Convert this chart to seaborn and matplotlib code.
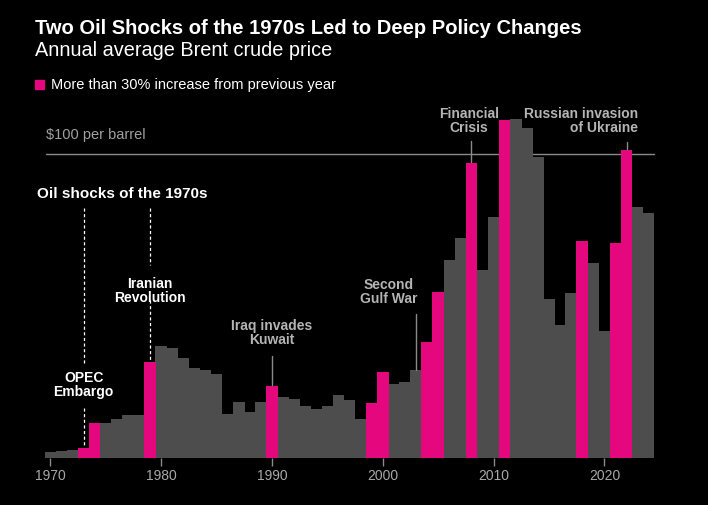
import numpy as np
import pandas as pd
import matplotlib
matplotlib.use("Agg")
import matplotlib.pyplot as plt
import seaborn as sns

# Precio medio anual del Brent (USD por barril)
years = list(range(1970, 2025))
prices = [1.8, 2.3, 2.6, 3.3, 11.5, 11.5, 12.6, 14.0, 14.1, 31.5,
          36.8, 36.0, 32.9, 29.5, 28.8, 27.6, 14.4, 18.3, 14.9, 18.2,
          23.7, 20.1, 19.3, 17.0, 15.9, 17.0, 20.6, 19.0, 12.6, 17.9,
          28.3, 24.4, 24.9, 28.8, 38.2, 54.6, 65.1, 72.4, 97.1, 61.7,
          79.4, 111.2, 111.5, 108.6, 99.0, 52.2, 43.7, 54.2, 71.3, 64.1,
          41.8, 70.8, 101.3, 82.5, 80.7]
# Años con subida de más del 30%
big_jump_years = [1973, 1974, 1979, 1990, 1999, 2000, 2004, 2005, 2008,
                  2011, 2018, 2021, 2022]
tick_years = [1970, 1980, 1990, 2000, 2010, 2020]

PINK = "#e5077e"
GRAY = "#4d4d4d"
TXT_GRAY = "#b4b4b4"

df = pd.DataFrame({"year": years, "price": prices})
df["tipo"] = np.where(df["year"].isin(big_jump_years), "salto", "normal")

sns.set_style("dark")
plt.rcParams["font.family"] = ["Liberation Sans", "DejaVu Sans"]

W, H = 708, 505
fig = plt.figure(figsize=(W / 100, H / 100), dpi=100, facecolor="black")

# ejes en píxeles: 1970 en x=50.4, 11.08 px por año; base en y=457.7, 3.037 px por $
ax_l, ax_r, ax_t, ax_b = 40, 660, 95, 457.7
ax = fig.add_axes([ax_l / W, 1 - ax_b / H, (ax_r - ax_l) / W, (ax_b - ax_t) / H])
ax.set_facecolor("black")

# línea de $100 detrás de las barras
ax.plot([1969.6, 2024.5], [100, 100], color="#8a8a8a", lw=1, zorder=0)
ax.text(1969.6, 104, "$100 per barrel", color="#a0a0a0", fontsize=10.5,
        ha="left", va="bottom")

# ancho un poco mayor que 1 para que las barras se toquen sin rendijas
sns.barplot(data=df, x="year", y="price", hue="tipo",
            palette={"salto": PINK, "normal": GRAY}, saturation=1,
            native_scale=True, dodge=False, width=1.04, linewidth=0,
            legend=False, ax=ax, zorder=2)
for bar in ax.patches:
    bar.set_antialiased(False)

ax.set_xlim(1970 - (50.4 - ax_l) / 11.08, 1970 + (ax_r - 50.4) / 11.08)
ax.set_ylim(0, (ax_b - ax_t) / 3.037)
ax.set_xticks(tick_years)
ax.set_xticklabels([str(y) for y in tick_years])
ax.set_yticks([])
ax.set_xlabel("")
ax.set_ylabel("")
ax.tick_params(axis="x", colors="#8a8a8a", labelcolor="#a8a8a8", length=6,
               width=1, labelsize=10, pad=2, bottom=True)
for s in ax.spines.values():
    s.set_visible(False)
ax.grid(False)

# anotaciones de los años 70
ax.text(1968.8, 86.8, "Oil shocks of the 1970s", color="white", fontsize=11,
        fontweight="bold", ha="left", va="center")
dash = dict(color="white", lw=0.9, ls=(0, (2.5, 2)), zorder=3)
ax.plot([1973, 1973], [82.2, 30.5], **dash)
ax.plot([1973, 1973], [16.4, 3.6], **dash)
ax.text(1973, 23.9, "OPEC\nEmbargo", color="white", fontsize=10,
        fontweight="bold", ha="center", va="center", linespacing=1.05)
ax.plot([1979, 1979], [82.2, 63.4], **dash)
ax.plot([1979, 1979], [51.9, 31.8], **dash)
ax.text(1979, 54.9, "Iranian\nRevolution", color="white", fontsize=10,
        fontweight="bold", ha="center", va="center", linespacing=1.05)

# otros eventos
solid = dict(color="#8a8a8a", lw=1, zorder=3)
ax.plot([1990, 1990], [33.5, 23.9], **solid)
ax.text(1990, 41.1, "Iraq invades\nKuwait", color=TXT_GRAY, fontsize=10,
        fontweight="bold", ha="center", va="center", linespacing=1.05)
ax.plot([2003, 2003], [47.3, 29.0], **solid)
ax.text(2000.5, 54.6, "Second\nGulf War", color=TXT_GRAY, fontsize=10,
        fontweight="bold", ha="center", va="center", linespacing=1.05)
ax.plot([2008, 2008], [104.3, 97.3], **solid)
ax.text(2007.8, 110.9, "Financial\nCrisis", color=TXT_GRAY, fontsize=10,
        fontweight="bold", ha="center", va="center", linespacing=1.05)
ax.plot([2022, 2022], [104.0, 101.5], **solid)
ax.text(2023.0, 110.9, "Russian invasion\nof Ukraine", color=TXT_GRAY,
        fontsize=10, fontweight="bold", ha="right", va="center",
        multialignment="right", linespacing=1.05)

# título, subtítulo y leyenda
fig.text(35 / W, 1 - 28 / H, "Two Oil Shocks of the 1970s Led to Deep Policy Changes",
         color="white", fontsize=14.5, fontweight="bold", ha="left", va="center")
fig.text(35 / W, 1 - 50 / H, "Annual average Brent crude price",
         color="white", fontsize=14.3, ha="left", va="center")
fig.patches.append(plt.Rectangle((35 / W, 1 - 89 / H), 9 / W, 9 / H,
                                 transform=fig.transFigure, color=PINK))
fig.text(51 / W, 1 - 85 / H, "More than 30% increase from previous year",
         color="white", fontsize=10.5, ha="left", va="center")

fig.savefig("out.png", dpi=100, facecolor="black")
